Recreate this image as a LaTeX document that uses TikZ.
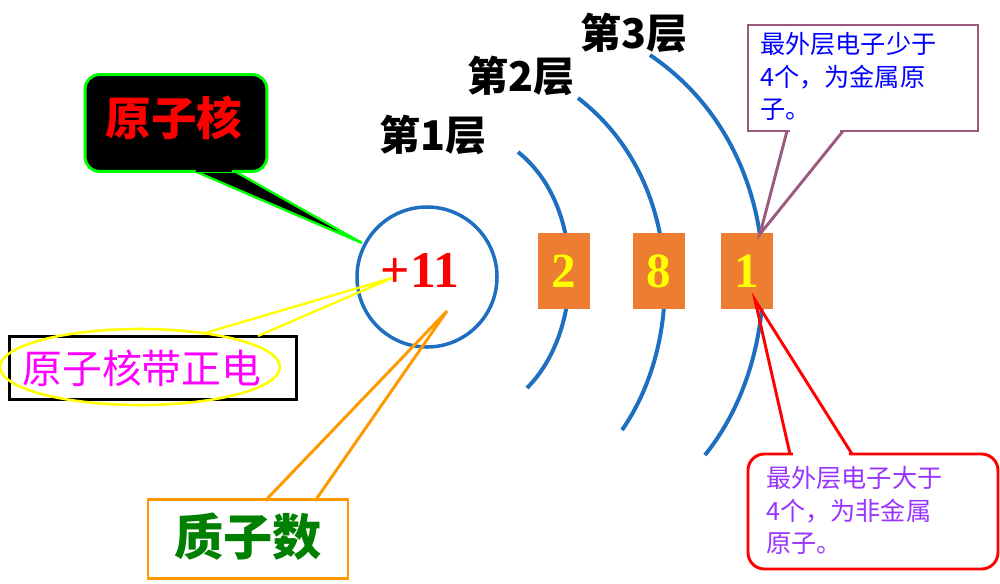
\documentclass[tikz,border=0pt]{standalone}
\usepackage{fontspec}
\setmainfont{Liberation Serif}
\newfontfamily\cjk{Noto Sans CJK SC}
\definecolor{arcblue}{HTML}{1F6FC0}
\definecolor{sqorange}{HTML}{ED7D31}
\definecolor{mauve}{HTML}{9B5A7D}
\definecolor{darkgreen}{HTML}{008000}
\definecolor{notepurple}{HTML}{9933FF}
\definecolor{brightmag}{HTML}{FF00FF}
\definecolor{brightyel}{HTML}{FFFF00}
\definecolor{brightgreen}{HTML}{00FF00}
\definecolor{orng}{HTML}{FF9900}
\begin{document}
\begin{tikzpicture}[x=0.03cm,y=-0.03cm,
  arcst/.style={draw=arcblue,line width=3.4pt},
  sq/.style={fill=sqorange,minimum width=1.56cm,minimum height=2.3cm,inner sep=0pt,text=brightyel,font=\bfseries\fontsize{42}{42}\selectfont},
  layer/.style={font=\cjk\bfseries\fontsize{35}{35}\selectfont},
  note/.style={align=left,anchor=north west,font=\cjk\fontsize{21.5}{28}\selectfont}]
\useasboundingbox (0,0) rectangle (1000,583);
% arcs
\draw[arcst] (518,152) .. controls (585,205) and (585,330) .. (527,388);
\draw[arcst] (578,98) .. controls (685,180) and (685,340) .. (622,430);
\draw[arcst] (650,55) .. controls (790,150) and (790,350) .. (705,455);
% nucleus
\node[circle,draw=arcblue,line width=3pt,minimum size=4.2cm] (nuc) at (427,277) {};
\node[text=red,font=\bfseries\fontsize{44}{44}\selectfont] (p) at (420,270) {+11};
% squares
\node[sq] (s1) at (564,271) {2};
\node[sq] (s2) at (659,271) {8};
\node[sq] (s3) at (747,271) {1};
% layer labels
\node[layer] (l1) at (433,135) {第1层};
\node[layer] (l2) at (521,76) {第2层};
\node[layer] (l3) at (634,33) {第3层};
% black callout
\coordinate (t1) at (362,243);
\fill[black,draw=brightgreen,line width=2pt] (192,170) -- (t1) -- (236,172) -- cycle;
\node[draw=brightgreen,fill=black,line width=2.5pt,rounded corners=12pt,minimum width=5.45cm,minimum height=2.9cm] (bk) at (176,123) {};
\fill[black] (196,166) -- (232,166) -- (232,172) -- (196,172) -- cycle;
\node[text=red,font=\cjk\bfseries\fontsize{39}{39}\selectfont] at (174,118) {原子核};
% positive charge label
\node[draw=black,line width=2.5pt,minimum width=8.6cm,minimum height=1.9cm] (pc) at (153,368) {};
\coordinate (t2) at (392,278);
\draw[brightyel,line width=2pt] (205,333) -- (t2) -- (258,336);
\draw[brightyel,line width=2.2pt] (140,367) ellipse (140 and 38);
\node[text=brightmag,font=\cjk\fontsize{34}{34}\selectfont] at (142,368) {原子核带正电};
% proton count
\node[draw=orng,line width=2.5pt,fill=white,minimum width=6cm,minimum height=2.35cm] (pn) at (248,539) {};
\coordinate (t3) at (447,311);
\draw[orng,line width=2.5pt] (265,501) -- (t3) -- (315,501);
\node[text=darkgreen,font=\cjk\bfseries\fontsize{42}{42}\selectfont] at (248,537) {质子数};
% top-right note
\draw[mauve,line width=2.5pt,fill=white] (748,25) rectangle (978,131);
\coordinate (t4) at (760,234);
\draw[mauve,line width=2.5pt] (787,131) -- (t4) -- (843,131);
\draw[white,line width=3pt] (790,131) -- (840,131);
\node[note,text=blue] at (756,28) {最外层电子少于\\4个，为金属原\\子。};
% bottom-right note
\coordinate (t5) at (755,300);
\draw[red,line width=2.5pt] (790,454) -- (t5) -- (852,454);
\draw[red,line width=2.5pt,fill=white,rounded corners=14pt] (748,454) rectangle (998,569);
\draw[white,line width=3.5pt] (793,454) -- (849,454);
\node[note,text=notepurple] at (762,462) {最外层电子大于\\4个，为非金属\\原子。};
\end{tikzpicture}
\end{document}
